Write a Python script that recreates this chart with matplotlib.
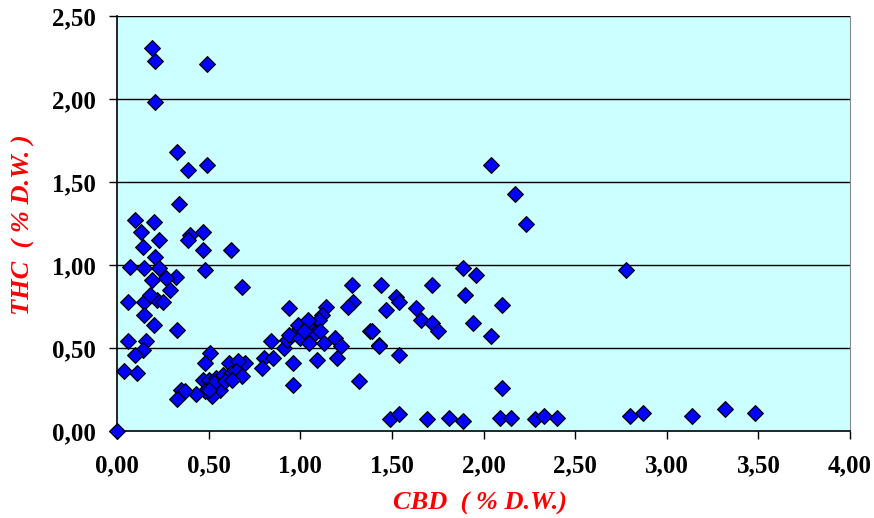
import matplotlib
matplotlib.use("Agg")
import matplotlib.pyplot as plt
from matplotlib.ticker import FixedLocator, FuncFormatter

cbd = [
    0.00,
    0.19, 0.21, 0.49, 0.21, 0.33, 0.39, 0.49, 0.34,
    0.10, 0.20, 0.13, 0.40, 0.39, 0.47, 0.23, 0.14, 0.47, 0.62, 0.21,
    0.07, 0.15, 0.23, 0.48, 0.32, 0.27, 0.19, 0.29, 0.68,
    0.06, 0.15, 0.22, 0.25, 0.18, 0.15, 0.20, 0.33,
    0.06, 0.16, 0.14, 0.10, 0.04, 0.11,
    0.94, 0.51, 0.48, 0.61, 0.70, 0.66, 0.80, 0.79, 0.84, 0.85, 0.91, 0.93, 0.97,
    0.96, 0.96, 0.47, 0.50, 0.54, 0.58, 0.62, 0.65, 0.68, 0.56, 0.52, 0.48,
    0.43, 0.35, 0.37, 0.33, 0.53, 0.59, 0.63, 0.50,
    1.28, 1.14, 1.29, 1.26, 1.12, 1.10, 0.99, 1.04, 1.08, 1.11, 0.94, 1.00,
    1.05, 1.13, 1.19, 1.22, 1.09, 1.20, 1.32, 1.38, 1.43, 1.04, 1.02,
    2.04, 2.17, 2.23, 1.89, 1.96, 1.44, 1.72, 1.90, 1.52, 1.54, 2.10, 1.47,
    1.63, 1.66, 1.72, 1.75, 1.94, 2.04, 1.39, 1.43, 1.54, 2.10,
    1.49, 1.54, 1.69, 1.81, 1.89, 2.09, 2.15, 2.28, 2.33, 2.40,
    2.78, 2.80, 2.87, 3.14, 3.32, 3.48,
]
thc = [
    0.00,
    2.31, 2.23, 2.21, 1.98, 1.68, 1.57, 1.60, 1.37,
    1.27, 1.26, 1.20, 1.18, 1.15, 1.20, 1.15, 1.11, 1.09, 1.09, 1.05,
    0.99, 0.98, 0.98, 0.97, 0.93, 0.92, 0.91, 0.85, 0.87,
    0.78, 0.78, 0.79, 0.78, 0.82, 0.70, 0.64, 0.61,
    0.54, 0.54, 0.49, 0.46, 0.36, 0.35,
    0.74, 0.47, 0.41, 0.41, 0.41, 0.42, 0.44, 0.38, 0.54, 0.44, 0.50, 0.55, 0.59,
    0.41, 0.28, 0.31, 0.31, 0.32, 0.34, 0.35, 0.36, 0.33, 0.25, 0.21, 0.24,
    0.22, 0.25, 0.24, 0.19, 0.29, 0.30, 0.31, 0.25,
    0.88, 0.75, 0.78, 0.75, 0.70, 0.67, 0.64, 0.63, 0.59, 0.60, 0.58, 0.56,
    0.53, 0.53, 0.56, 0.51, 0.43, 0.44, 0.30, 0.60, 0.52, 0.67, 0.60,
    1.60, 1.43, 1.25, 0.98, 0.94, 0.88, 0.88, 0.82, 0.81, 0.78, 0.76, 0.73,
    0.74, 0.67, 0.65, 0.60, 0.65, 0.57, 0.60, 0.51, 0.46, 0.26,
    0.07, 0.10, 0.07, 0.08, 0.06, 0.08, 0.08, 0.07, 0.09, 0.08,
    0.97, 0.09, 0.11, 0.09, 0.13, 0.11,
]

x_ticks = [0.0, 0.5, 1.0, 1.5, 2.0, 2.5, 3.0, 3.5, 4.0]
y_ticks = [0.0, 0.5, 1.0, 1.5, 2.0, 2.5]
x_title = "CBD  ( % D.W.)"
y_title = "THC  ( % D.W. )"

W, H = 874, 518
fig = plt.figure(figsize=(W / 100, H / 100), dpi=100)
ax = fig.add_axes([117 / W, 1 - 431 / H, (850 - 117) / W, (431 - 16) / H])
ax.set_facecolor("#CCFFFF")
ax.set_xlim(0, 4)
ax.set_ylim(0, 2.5)

for y in y_ticks[1:]:
    ax.axhline(y, color="black", lw=1.0, zorder=1)

ax.scatter(cbd, thc, marker="D", s=64, facecolor="#0000FF",
           edgecolor="black", linewidth=0.9, zorder=3, clip_on=False)

fmt = FuncFormatter(lambda v, p: f"{v:.2f}".replace(".", ","))
ax.xaxis.set_major_locator(FixedLocator(x_ticks))
ax.yaxis.set_major_locator(FixedLocator(y_ticks))
ax.xaxis.set_major_formatter(fmt)
ax.yaxis.set_major_formatter(fmt)

for lab in ax.get_xticklabels() + ax.get_yticklabels():
    lab.set_fontfamily("Liberation Serif")
    lab.set_fontweight("bold")
    lab.set_fontsize(18)

ax.tick_params(axis="both", direction="out", length=6, width=1, color="black")
ax.tick_params(axis="x", pad=11)
ax.tick_params(axis="y", pad=9)

ax.spines["top"].set_visible(False)
ax.spines["right"].set_color("#888888")
ax.spines["left"].set_color("black")
ax.spines["bottom"].set_color("black")
for s in ("left", "bottom"):
    ax.spines[s].set_linewidth(1.2)

lab_kw = dict(color="red", fontfamily="Liberation Serif", fontweight="bold",
              fontstyle="italic", fontsize=19, ha="center", va="center")
fig.text(480 / W, 1 - 503 / H, x_title, **lab_kw)
fig.text(23 / W, 1 - 225 / H, y_title, rotation=90, **lab_kw)

fig.savefig("out.png", dpi=100, facecolor="white")
